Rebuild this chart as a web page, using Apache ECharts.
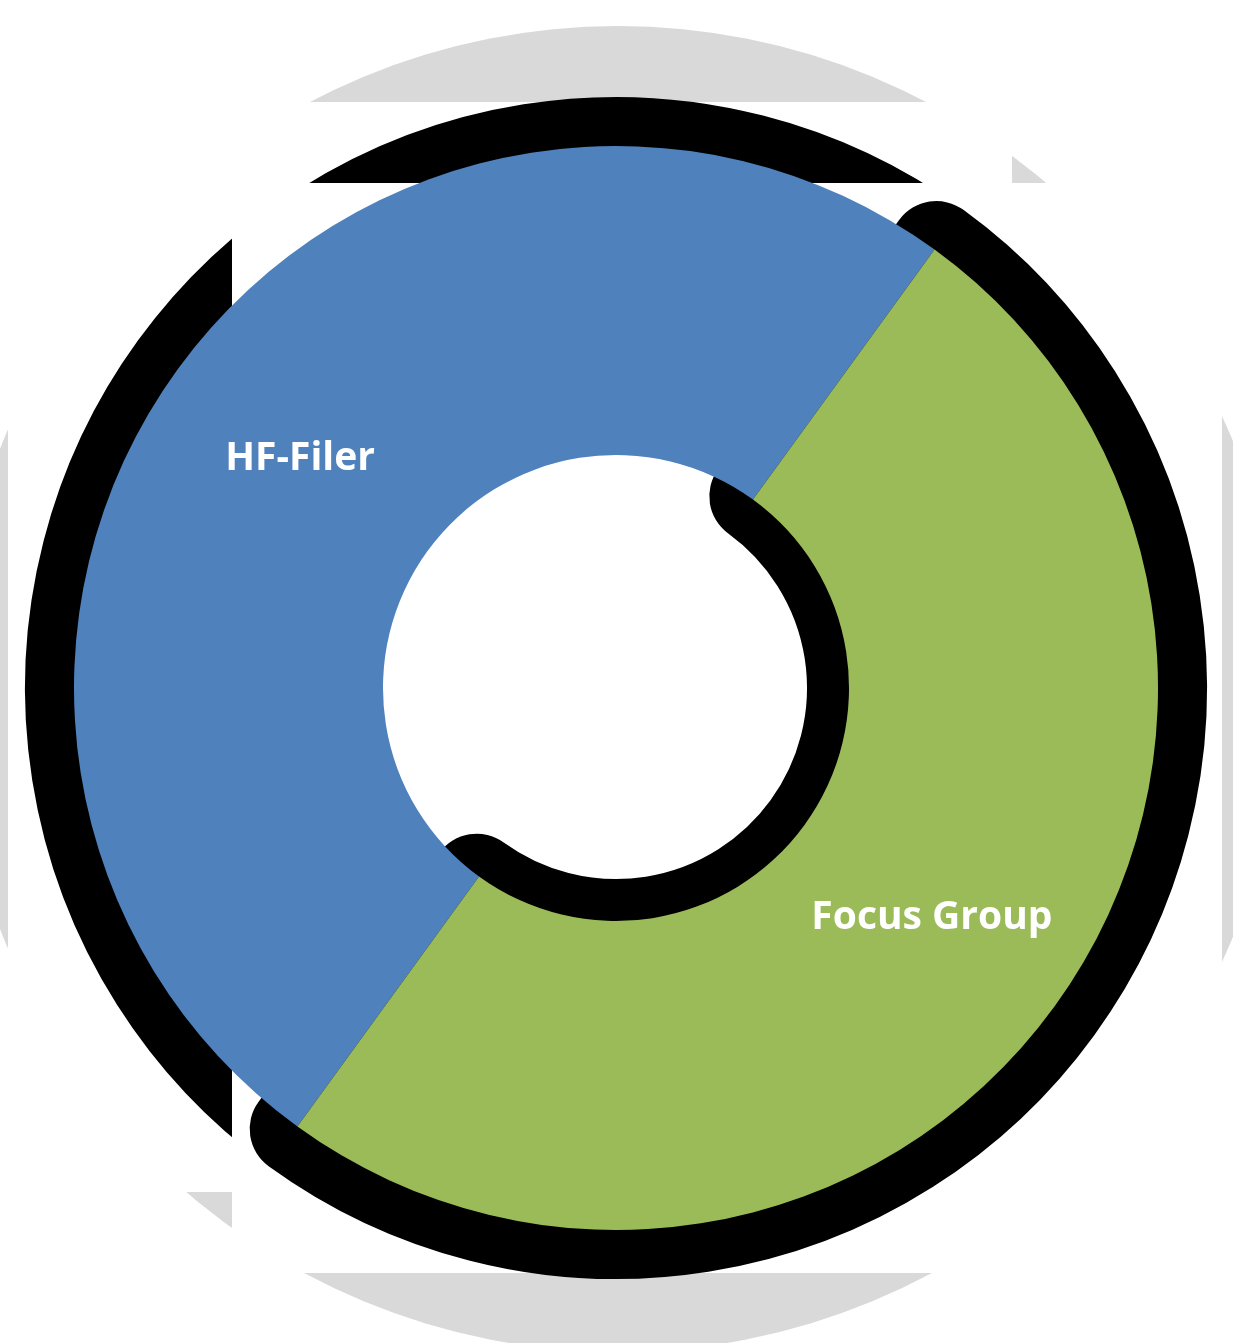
<!DOCTYPE html>
<html>
<head>
<meta charset="utf-8">
<script src="https://cdn.jsdelivr.net/npm/echarts@6/dist/echarts.min.js"></script>
<style>
html,body{margin:0;padding:0;background:#fff;}
#chart{width:1233px;height:1343px;}
</style>
</head>
<body>
<div id="chart"></div>
<script>
// ---- data ----
const categories = ['HF-Filer', 'Focus Group'];
const values = [50, 50];
const colors = ['#4F81BD', '#9BBB59'];

// ---- layout ----
const CX = 616, CY = 688;
const R_IN = 233, R_OUT = 542;
const START = 234;
const SHADOW_W = 92;

function shadowData(showIndex) {
  return categories.map((name, i) => ({
    name: name,
    value: values[i],
    itemStyle: i === showIndex
      ? { color: '#000', borderColor: '#000', borderWidth: SHADOW_W, borderJoin: 'round' }
      : { color: 'rgba(0,0,0,0)', borderWidth: 0 }
  }));
}

const baseSeries = {
  type: 'pie',
  center: [CX, CY],
  radius: [R_IN + 4, R_OUT + 3],
  startAngle: START,
  clockwise: true,
  silent: true,
  label: { show: false },
  labelLine: { show: false },
  emphasis: { disabled: true },
  animation: false
};

const chart = echarts.init(document.getElementById('chart'), null, { renderer: 'canvas' });
chart.setOption({
  backgroundColor: '#ffffff',
  animation: false,
  graphic: [
    // grey background disc
    { type: 'circle', shape: { cx: 618, cy: 689, r: 663 }, style: { fill: '#D9D9D9' }, z: 1, silent: true },
    // white tiles hiding most of the grey disc
    { type: 'rect', shape: { x: 8, y: 102, width: 1004, height: 81 }, style: { fill: '#fff' }, z: 2, silent: true },
    { type: 'rect', shape: { x: 8, y: 183, width: 1214, height: 1009 }, style: { fill: '#fff' }, z: 2, silent: true },
    { type: 'rect', shape: { x: 233, y: 1192, width: 989, height: 81 }, style: { fill: '#fff' }, z: 2, silent: true },
    // white tile hiding most of the HF-Filer shadow
    { type: 'rect', shape: { x: 232, y: 183, width: 990, height: 1090 }, style: { fill: '#fff' }, z: 4, silent: true }
  ],
  series: [
    Object.assign({}, baseSeries, { name: 'shadowA', z: 3, data: shadowData(0) }),
    Object.assign({}, baseSeries, { name: 'shadowB', z: 5, data: shadowData(1) }),
    Object.assign({}, baseSeries, {
      name: 'main',
      z: 6,
      radius: [R_IN, R_OUT],
      data: categories.map((name, i) => ({ name: name, value: values[i], itemStyle: { color: colors[i] } })),
      label: {
        show: true,
        position: 'inside',
        formatter: '{b}',
        color: '#ffffff',
        fontFamily: 'Open Sans',
        fontWeight: 'bold',
        fontSize: 39,
        padding: [10, 0, 0, 0]
      }
    })
  ]
});
</script>
</body>
</html>
